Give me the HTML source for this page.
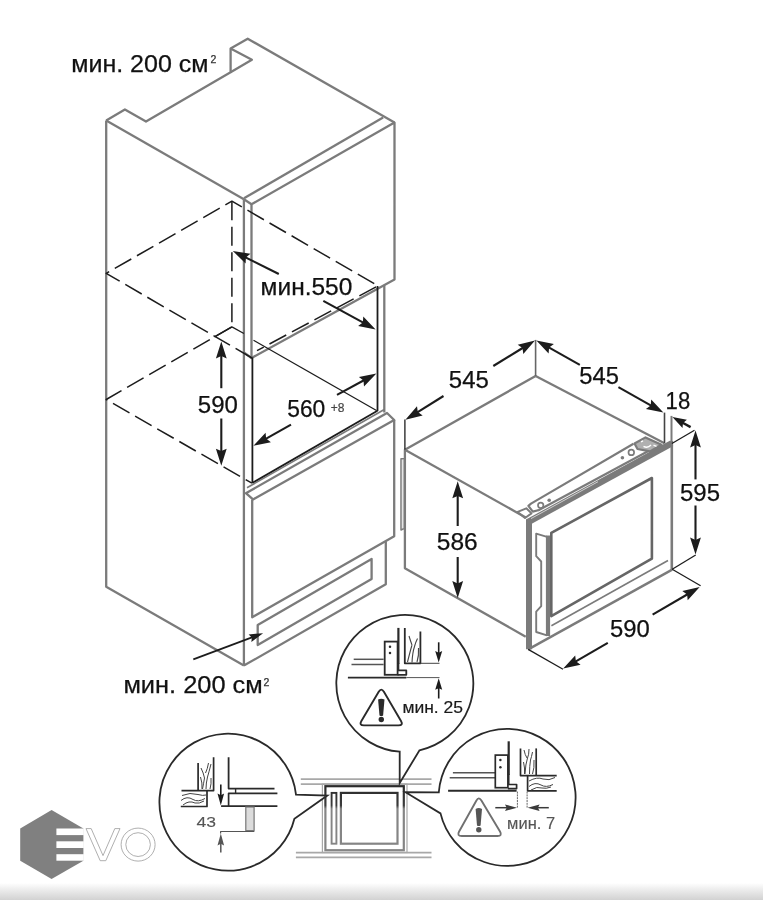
<!DOCTYPE html>
<html><head><meta charset="utf-8"><title>diagram</title>
<style>
html,body{margin:0;padding:0;background:#fff;}
body{width:763px;height:900px;overflow:hidden;position:relative;font-family:"Liberation Sans",sans-serif;}
svg{position:absolute;left:0;top:0;display:block;filter:blur(0.45px);}
svg text{font-family:"Liberation Sans",sans-serif;}
.foot{position:absolute;left:0;top:883px;width:763px;height:17px;background:linear-gradient(to bottom,#ffffff 0%,#ececec 40%,#d2d2d2 100%);}
</style></head><body>
<div class="foot"></div>
<svg width="763" height="900" viewBox="0 0 763 900">
<line x1="300.8" y1="779.2" x2="431.5" y2="779.2" stroke="#a8a8a8" stroke-width="1.8" />
<line x1="300.8" y1="784.1" x2="431.5" y2="784.1" stroke="#a8a8a8" stroke-width="1.8" />
<line x1="295.9" y1="852.6" x2="431.5" y2="852.6" stroke="#a8a8a8" stroke-width="1.8" />
<line x1="295.9" y1="857.4" x2="431.5" y2="857.4" stroke="#a8a8a8" stroke-width="1.8" />
<rect x="322.4" y="784.1" width="84.6" height="68.4" fill="none" stroke="#a8a8a8" stroke-width="1.2"/>
<defs><linearGradient id="fg" gradientUnits="userSpaceOnUse" x1="0" y1="785" x2="0" y2="851"><stop offset="0" stop-color="#2a2a2a"/><stop offset="0.31" stop-color="#3c3c3c"/><stop offset="0.36" stop-color="#858585"/><stop offset="1" stop-color="#858585"/></linearGradient></defs>
<rect x="325.4" y="786.2" width="78.4" height="64" fill="none" stroke="url(#fg)" stroke-width="2.2"/>
<rect x="331.6" y="792.9" width="4.8" height="50.8" fill="none" stroke="url(#fg)" stroke-width="1.9"/>
<rect x="340.9" y="792.9" width="56.6" height="50.8" fill="none" stroke="url(#fg)" stroke-width="2.2"/>
<path d="M399.7,751.7 A68.5,68.5 0 1 1 419.5,750.3 L399.7,783 Z" fill="#fff" stroke="#2a2a2a" stroke-width="1.8" stroke-linejoin="miter"/>
<path d="M294.4,818.7 A68.5,68.5 0 1 1 296.0,794.6 L327.3,795.5 Z" fill="#fff" stroke="#2a2a2a" stroke-width="1.8" stroke-linejoin="miter"/>
<path d="M438.8,792.3 A68.5,68.5 0 1 1 440.5,813.4 L405.5,792.2 Z" fill="#fff" stroke="#2a2a2a" stroke-width="1.8" stroke-linejoin="miter"/>
<line x1="353.7" y1="659.3" x2="383.6" y2="659.3" stroke="#555" stroke-width="1.5" />
<line x1="351.5" y1="664.5" x2="383.6" y2="664.5" stroke="#555" stroke-width="1.5" />
<line x1="347.9" y1="677.6" x2="406.3" y2="677.6" stroke="#2a2a2a" stroke-width="1.9" />
<line x1="406.3" y1="677.6" x2="439.5" y2="677.6" stroke="#555" stroke-width="1.0" />
<rect x="384.7" y="641.6" width="12.9" height="33.2" fill="#fff" stroke="#2a2a2a" stroke-width="1.8"/>
<circle cx="390" cy="646.7" r="1.25" fill="#2a2a2a"/><circle cx="390" cy="653.1" r="1.25" fill="#2a2a2a"/>
<line x1="398.4" y1="627.9" x2="398.4" y2="664" stroke="#2a2a2a" stroke-width="2.2" />
<polyline points="398.4,663.2 398.4,670.4 406.3,670.4 406.3,674.8 397.6,674.8" fill="none" stroke="#2a2a2a" stroke-width="1.8" stroke-linejoin="round" />
<polyline points="404.8,627.9 404.8,663.3 420.4,663.3 420.4,631.5" fill="none" stroke="#2a2a2a" stroke-width="1.8" stroke-linejoin="round" />
<path d="M409,636 q1.5,5 3,9 M417.5,638.5 q-2,4 -3,8 q-2,6 -2.5,16 M412,645 q-1.5,5 -4.5,17 M418.5,648 q0.5,8 -1.5,14" fill="none" stroke="#444" stroke-width="1.1"/>
<line x1="420.4" y1="663.3" x2="439.5" y2="663.3" stroke="#444" stroke-width="1.0" />
<line x1="438.7" y1="642.3" x2="438.7" y2="653.4" stroke="#1c1c1c" stroke-width="1.6" />
<polygon points="438.7,662.6 435.2,651.1 438.7,652.7 442.2,651.1" fill="#1c1c1c"/>
<line x1="438.7" y1="698.5" x2="438.7" y2="687.5" stroke="#1c1c1c" stroke-width="1.6" />
<polygon points="438.7,678.3 442.2,689.8 438.7,688.2 435.2,689.8" fill="#1c1c1c"/>
<path d="M378.7,691.8 Q381.3,687.4 383.9,691.8 L401.0,721.0 Q403.6,725.4 398.5,725.4 L363.9,725.4 Q358.8,725.4 361.4,721.0 Z" fill="#fff" stroke="#2a2a2a" stroke-width="1.9"/>
<path d="M378.1,699.6 q3.2,-1.9 6.4,0 l-1.4,15.8 q-1.8,1.1 -3.6,0 z" fill="#2a2a2a"/>
<circle cx="381.3" cy="719.5" r="2.7" fill="#2a2a2a"/>
<text x="402.4" y="712.5" font-size="17" fill="#1a1a1a" stroke="#1a1a1a" stroke-width="0.2" textLength="60.6" lengthAdjust="spacingAndGlyphs" >мин. 25</text>
<polyline points="198.1,763 198.1,790.6" fill="none" stroke="#2a2a2a" stroke-width="1.7" stroke-linejoin="round" />
<polyline points="213.6,757.2 213.6,790.6 181.5,790.6" fill="none" stroke="#2a2a2a" stroke-width="1.7" stroke-linejoin="round" />
<path d="M201,768 q2.5,5 3.5,10 M208.5,763 q-1,6 -3,10 M211,764 q-2,8 -3.5,13 q-1.5,6 -1.5,12 M200.5,777 q2,6 1.5,12 M204.5,778 q-1,6 -2,11 M211,778 q0.5,6 -1,11" fill="none" stroke="#444" stroke-width="1.0"/>
<polyline points="207,790.6 207,806.5 180.8,806.5" fill="none" stroke="#2a2a2a" stroke-width="1.7" stroke-linejoin="round" />
<path d="M182,795.5 q8,-3.5 16,-1 q5,1.5 8,0.5 M181,800.5 q6,-5 12,-1 q5,3 12,-1 M183,805 q6,-5 12,-2 q4,1 9,-2" fill="none" stroke="#444" stroke-width="1.0"/>
<polyline points="228.6,757.2 228.6,788.6 274.5,788.6" fill="none" stroke="#2a2a2a" stroke-width="1.8" stroke-linejoin="round" />
<line x1="235.6" y1="788.6" x2="235.6" y2="793.3" stroke="#2a2a2a" stroke-width="1.4" />
<polyline points="277.4,793.3 228.6,793.3 228.6,806.2" fill="none" stroke="#2a2a2a" stroke-width="1.7" stroke-linejoin="round" />
<line x1="221.1" y1="806.2" x2="277.4" y2="806.2" stroke="#2a2a2a" stroke-width="1.8" />
<rect x="245.8" y="807" width="8.3" height="23.6" fill="#dcdcdc" stroke="#777" stroke-width="1.2"/>
<polyline points="254.3,831.5 220.6,831.5 220.6,833.6" fill="none" stroke="#555" stroke-width="1.2" stroke-linejoin="round" />
<line x1="220.8" y1="784.6" x2="220.8" y2="796.0" stroke="#1c1c1c" stroke-width="1.6" />
<polygon points="220.8,805.6 217.5,793.6 220.8,795.3 224.1,793.6" fill="#1c1c1c"/>
<line x1="220.8" y1="852.4" x2="220.8" y2="843.0" stroke="#555" stroke-width="1.5" />
<polygon points="220.8,833.4 224.1,845.4 220.8,843.7 217.5,845.4" fill="#555"/>
<text x="196.6" y="826.6" font-size="15.5" fill="#555" stroke="#555" stroke-width="0.1" textLength="19.5" lengthAdjust="spacingAndGlyphs" >43</text>
<line x1="452.9" y1="772.7" x2="495.3" y2="772.7" stroke="#555" stroke-width="1.5" />
<line x1="449.7" y1="777.8" x2="495.3" y2="777.8" stroke="#555" stroke-width="1.5" />
<line x1="448.1" y1="790.8" x2="516.6" y2="790.8" stroke="#2a2a2a" stroke-width="1.9" />
<rect x="495.3" y="755.1" width="12.6" height="32.6" fill="#fff" stroke="#2a2a2a" stroke-width="1.7"/>
<circle cx="500.4" cy="759.9" r="1.25" fill="#2a2a2a"/><circle cx="500.4" cy="767.2" r="1.25" fill="#2a2a2a"/>
<line x1="508.7" y1="741.3" x2="508.7" y2="775" stroke="#2a2a2a" stroke-width="2.2" />
<polyline points="508.7,774.3 508.7,784.5 516.6,784.5 516.6,788.6 507.9,788.6" fill="none" stroke="#2a2a2a" stroke-width="1.7" stroke-linejoin="round" />
<polyline points="520.5,748.4 520.5,775.6 556.7,775.6" fill="none" stroke="#2a2a2a" stroke-width="1.7" stroke-linejoin="round" />
<line x1="536.2" y1="748.4" x2="536.2" y2="775.6" stroke="#2a2a2a" stroke-width="1.7" />
<path d="M524,750 q1,5 3,8 M529,749 q0,6 -1.5,9 q-2,6 -2.5,16 M532.5,752 q-1,5 -2,8 q-1,6 -1,14 M534,760 q0.5,8 -1.5,14 M523.5,762 q1.5,6 1,12" fill="none" stroke="#444" stroke-width="1.0"/>
<polyline points="527.6,775.6 527.6,790.8 556.7,790.8" fill="none" stroke="#2a2a2a" stroke-width="1.7" stroke-linejoin="round" />
<path d="M529,781 q8,-4.5 14,-2 q6,2 12,-1.5 M529,786.5 q6,-5 12,-1.5 q5,3 12,-0.5 M531,790 q6,-4 11,-2 q4,1 9,-1" fill="none" stroke="#444" stroke-width="1.0"/>
<line x1="517.4" y1="791.6" x2="517.4" y2="808.3" stroke="#666" stroke-width="1.0" stroke-dasharray="2 0.8"/>
<line x1="527.1" y1="791.6" x2="527.1" y2="808.3" stroke="#666" stroke-width="1.0" stroke-dasharray="2 0.8"/>
<line x1="495.3" y1="807.7" x2="507.4" y2="807.7" stroke="#3a3a3a" stroke-width="1.5" />
<polygon points="517.0,807.7 505.0,810.9 506.7,807.7 505.0,804.5" fill="#3a3a3a"/>
<line x1="548.8" y1="807.7" x2="537.2" y2="807.7" stroke="#3a3a3a" stroke-width="1.5" />
<polygon points="527.6,807.7 539.6,804.5 537.9,807.7 539.6,810.9" fill="#3a3a3a"/>
<path d="M476.3,800.7 Q478.8,796.2 481.4,800.6 L500.0,831.6 Q502.6,836.0 497.5,836.0 L461.7,836.0 Q456.6,836.0 459.1,831.5 Z" fill="#fff" stroke="#707070" stroke-width="1.9"/>
<path d="M475.6,808.9 q3.2,-1.9 6.4,0 l-1.4,16.5 q-1.8,1.1 -3.6,0 z" fill="#555"/>
<circle cx="478.8" cy="829.8" r="2.7" fill="#555"/>
<text x="507.1" y="829" font-size="17" fill="#555" stroke="#555" stroke-width="0.15" textLength="48" lengthAdjust="spacingAndGlyphs" >мин. 7</text>
<polygon points="51.6,810.1 83.4,828.5 83.4,860.7 51.6,879.1 20.2,860.7 20.2,828.5" fill="#808080"/>
<rect x="56.4" y="828.5" width="27.4" height="6.6" fill="#fff"/>
<rect x="56.4" y="841.3" width="27.4" height="6.7" fill="#fff"/>
<rect x="56.4" y="854.2" width="27.4" height="6.5" fill="#fff"/>
<polygon points="86,828.6 91.2,828.6 103,855.6 114.8,828.6 120,828.6 105.8,860.7 100.2,860.7" fill="#fff" stroke="#9a9a9a" stroke-width="0.8" stroke-linejoin="miter"/>
<ellipse cx="138.1" cy="844.6" rx="17" ry="16.5" fill="#fff" stroke="#9a9a9a" stroke-width="0.8"/>
<ellipse cx="138.1" cy="844.6" rx="12.3" ry="11.9" fill="#fff" stroke="#9a9a9a" stroke-width="0.8"/>
<polyline points="106.2,120.5 124.9,109.5 146,121.6 230.6,72.2 230.6,48.6 247.7,38.7 394.5,122.6" fill="none" stroke="#7b7b7b" stroke-width="2.3" stroke-linejoin="round" />
<polyline points="230.6,48.6 251.9,59.8 230.6,72.2" fill="none" stroke="#7b7b7b" stroke-width="2.3" stroke-linejoin="round" />
<polyline points="106.2,120.5 106.2,586.7 243.9,665.6" fill="none" stroke="#7b7b7b" stroke-width="2.3" stroke-linejoin="round" />
<line x1="106.2" y1="120.5" x2="243.9" y2="199.3" stroke="#7b7b7b" stroke-width="2.3" />
<line x1="243.9" y1="199.3" x2="243.9" y2="665.6" stroke="#7b7b7b" stroke-width="2.3" />
<line x1="244.0" y1="198.3" x2="383.1" y2="117.6" stroke="#7b7b7b" stroke-width="2.3" />
<polygon points="251.5,204.3 394.5,122.6 394.5,279.6 251.5,358" fill="none" stroke="#7b7b7b" stroke-width="2.3" stroke-linejoin="round" />
<line x1="243.9" y1="199.3" x2="251.5" y2="204.3" stroke="#7b7b7b" stroke-width="2.3" />
<line x1="243.9" y1="352.5" x2="251.5" y2="358" stroke="#7b7b7b" stroke-width="2.3" />
<line x1="384.3" y1="285.5" x2="384.3" y2="412.5" stroke="#7b7b7b" stroke-width="2.3" />
<line x1="252.4" y1="357.4" x2="252.4" y2="483.2" stroke="#1c1c1c" stroke-width="1.8" />
<line x1="377.5" y1="286" x2="377.5" y2="411" stroke="#1c1c1c" stroke-width="1.8" />
<line x1="252.5" y1="482.9" x2="377.5" y2="410.8" stroke="#1c1c1c" stroke-width="1.8" />
<line x1="253.5" y1="340.2" x2="376.5" y2="410.5" stroke="#1c1c1c" stroke-width="1.3" />
<line x1="247" y1="487.8" x2="384.3" y2="409.5" stroke="#7b7b7b" stroke-width="1.6" />
<polygon points="245.9,493.2 387,413 394.2,420 253.0,499.4" fill="none" stroke="#7b7b7b" stroke-width="2.3" stroke-linejoin="round" />
<polyline points="394.2,420 394.2,536.3 252.2,617.2 252.2,499.4" fill="none" stroke="#7b7b7b" stroke-width="2.3" stroke-linejoin="round" />
<polyline points="243.9,665.6 385.8,584.2 385.8,541.5" fill="none" stroke="#7b7b7b" stroke-width="2.3" stroke-linejoin="round" />
<polygon points="257.7,625 371.6,558.9 371.6,579 257.7,645" fill="none" stroke="#7b7b7b" stroke-width="2.3" stroke-linejoin="round" />
<polyline points="252,358 106.2,273.4 231.9,201.2 378,285.8 257,350.7" fill="none" stroke="#1c1c1c" stroke-width="1.5" stroke-linejoin="round" stroke-dasharray="19 6.5"/>
<line x1="231.9" y1="201.2" x2="231.9" y2="326.9" stroke="#1c1c1c" stroke-width="1.5" stroke-dasharray="19 6.5"/>
<polyline points="231.9,326.9 106.2,399.5 251.9,483.2" fill="none" stroke="#1c1c1c" stroke-width="1.5" stroke-linejoin="round" stroke-dasharray="19 6.5"/>
<line x1="231.9" y1="326.9" x2="214.5" y2="336.9" stroke="#1c1c1c" stroke-width="1.3" />
<line x1="231.9" y1="326.9" x2="243.9" y2="333.5" stroke="#1c1c1c" stroke-width="1.3" />
<line x1="278.8" y1="274" x2="245.0" y2="257.1" stroke="#1c1c1c" stroke-width="2.1" />
<polygon points="232.8,251.0 250.4,253.8 245.9,257.5 245.6,263.4" fill="#1c1c1c"/>
<line x1="323.3" y1="300.8" x2="363.7" y2="322.9" stroke="#1c1c1c" stroke-width="2.1" />
<polygon points="375.6,329.4 358.1,326.0 362.8,322.4 363.3,316.5" fill="#1c1c1c"/>
<line x1="221.3" y1="388.2" x2="221.3" y2="355.1" stroke="#1c1c1c" stroke-width="2.1" />
<polygon points="221.3,341.5 226.7,358.5 221.3,356.1 215.9,358.5" fill="#1c1c1c"/>
<line x1="221.3" y1="418.5" x2="221.3" y2="452.1" stroke="#1c1c1c" stroke-width="2.1" />
<polygon points="221.3,465.7 215.9,448.7 221.3,451.1 226.7,448.7" fill="#1c1c1c"/>
<line x1="291" y1="424.7" x2="265.3" y2="439.1" stroke="#1c1c1c" stroke-width="2.1" />
<polygon points="253.4,445.8 265.6,432.8 266.1,438.6 270.9,442.2" fill="#1c1c1c"/>
<line x1="337" y1="394.8" x2="364.4" y2="380.0" stroke="#1c1c1c" stroke-width="2.1" />
<polygon points="376.4,373.6 364.0,386.4 363.5,380.5 358.9,376.9" fill="#1c1c1c"/>
<line x1="193.3" y1="659.4" x2="252.6" y2="637.1" stroke="#1c1c1c" stroke-width="1.7" />
<polygon points="263.1,633.2 251.4,641.9 251.8,637.4 248.6,634.4" fill="#1c1c1c"/>
<polyline points="404,458.7 401.0,458.7 401.0,530 404,528.5" fill="none" stroke="#7b7b7b" stroke-width="1.5" stroke-linejoin="round" />
<line x1="403.2" y1="459" x2="403.2" y2="528.5" stroke="#aaa" stroke-width="1.0" />
<polyline points="535.6,376 404.9,449.7 404.9,568.2 525.7,636.7" fill="none" stroke="#7b7b7b" stroke-width="2.3" stroke-linejoin="round" />
<line x1="404.9" y1="449.7" x2="525.7" y2="517.4" stroke="#7b7b7b" stroke-width="2.3" />
<line x1="535.6" y1="376" x2="664.5" y2="443.3" stroke="#7b7b7b" stroke-width="2.3" />
<line x1="529.0" y1="519.5" x2="529.0" y2="649.2" stroke="#7b7b7b" stroke-width="6.0" />
<line x1="527.5" y1="522.4" x2="671.8" y2="443.3" stroke="#7b7b7b" stroke-width="6.4" />
<line x1="531" y1="518.6" x2="598" y2="481.7" stroke="#d8d8d8" stroke-width="0.9" />
<line x1="671.8" y1="441" x2="671.8" y2="570" stroke="#7b7b7b" stroke-width="2.6" />
<line x1="672.2" y1="569.6" x2="528.2" y2="649.4" stroke="#7b7b7b" stroke-width="2.4" />
<polyline points="551.4,625.8 668,560.5" fill="none" stroke="#7b7b7b" stroke-width="1.6" stroke-linejoin="round" />
<polygon points="551.3,532.8 651.9,478 651.9,558.6 551.3,616.2" fill="none" stroke="#666" stroke-width="2.6" stroke-linejoin="round" />
<polyline points="547,536.8 536.2,533.6 536.2,556.2 541.2,561.5 541.2,606.2 536.2,611.6 536.2,632 547,635.3" fill="none" stroke="#7b7b7b" stroke-width="1.9" stroke-linejoin="round" />
<line x1="548.0" y1="535.5" x2="548.0" y2="636" stroke="#7b7b7b" stroke-width="4.2" />
<polyline points="538.2,510.3 532.8,511.6 528.4,505.8 531,503.6 633.5,443.8" fill="none" stroke="#7b7b7b" stroke-width="2.2" stroke-linejoin="round" />
<line x1="538" y1="510.5" x2="654" y2="448.0" stroke="#7b7b7b" stroke-width="2.2" />
<polygon points="517.7,511.9 526.3,508.3 531.5,513.4 525,518" fill="none" stroke="#7b7b7b" stroke-width="2.0" stroke-linejoin="round" />
<circle cx="540.7" cy="505.3" r="2.7" fill="none" stroke="#7b7b7b" stroke-width="1.7"/>
<circle cx="549.2" cy="500.2" r="1.8" fill="#7b7b7b"/>
<circle cx="631.3" cy="452.4" r="2.8" fill="none" stroke="#7b7b7b" stroke-width="1.7"/>
<circle cx="622.4" cy="457.7" r="1.8" fill="#7b7b7b"/>
<polygon points="634.5,443.5 645.5,437.4 661.5,444.8 650,451.4 637.5,449" fill="#b0b0b0" stroke="#7b7b7b" stroke-width="2.2" stroke-linejoin="round" />
<path d="M641,441.8 l2,-1 M643.5,446.3 q4,2.3 7.5,-1.3 M653.5,445.2 l3,1.2" stroke="#fff" stroke-width="1.4" fill="none"/>
<line x1="404.9" y1="419.6" x2="404.9" y2="449.5" stroke="#1c1c1c" stroke-width="1.3" />
<line x1="535.6" y1="339.9" x2="535.6" y2="376" stroke="#666" stroke-width="1.6" />
<line x1="664.5" y1="412.6" x2="664.5" y2="443.3" stroke="#444" stroke-width="1.6" />
<line x1="671.5" y1="415.9" x2="671.5" y2="444" stroke="#7b7b7b" stroke-width="2" />
<line x1="671.9" y1="443.5" x2="694.5" y2="430.2" stroke="#1c1c1c" stroke-width="1.3" />
<line x1="672.2" y1="569.3" x2="700.6" y2="585.8" stroke="#1c1c1c" stroke-width="1.3" />
<line x1="672.2" y1="569.3" x2="695.7" y2="555" stroke="#1c1c1c" stroke-width="1.3" />
<line x1="528.2" y1="649.4" x2="563" y2="669.3" stroke="#1c1c1c" stroke-width="1.3" />
<line x1="443.5" y1="396" x2="416.9" y2="412.6" stroke="#1c1c1c" stroke-width="2.1" />
<polygon points="405.4,419.8 417.0,406.2 417.8,412.1 422.7,415.4" fill="#1c1c1c"/>
<line x1="493.3" y1="366" x2="523.4" y2="347.5" stroke="#1c1c1c" stroke-width="2.1" />
<polygon points="535.0,340.4 523.3,353.9 522.5,348.0 517.7,344.7" fill="#1c1c1c"/>
<line x1="579.8" y1="364.8" x2="548.3" y2="347.1" stroke="#1c1c1c" stroke-width="2.1" />
<polygon points="536.4,340.4 553.9,344.0 549.1,347.6 548.6,353.4" fill="#1c1c1c"/>
<line x1="618.4" y1="387.2" x2="651.6" y2="405.9" stroke="#1c1c1c" stroke-width="2.1" />
<polygon points="663.4,412.6 645.9,408.9 650.7,405.4 651.2,399.5" fill="#1c1c1c"/>
<line x1="690.6" y1="427.1" x2="682.2" y2="422.5" stroke="#1c1c1c" stroke-width="2.4" />
<polygon points="672.4,417.1 686.9,419.8 683.0,422.9 682.5,427.9" fill="#1c1c1c"/>
<line x1="695.5" y1="479.4" x2="695.5" y2="444.1" stroke="#1c1c1c" stroke-width="2.1" />
<polygon points="695.5,430.5 700.9,447.5 695.5,445.1 690.1,447.5" fill="#1c1c1c"/>
<line x1="695.5" y1="505.5" x2="695.5" y2="540.9" stroke="#1c1c1c" stroke-width="2.1" />
<polygon points="695.5,554.5 690.1,537.5 695.5,539.9 700.9,537.5" fill="#1c1c1c"/>
<line x1="607.8" y1="642.8" x2="575.0" y2="661.8" stroke="#1c1c1c" stroke-width="2.1" />
<polygon points="563.2,668.6 575.2,655.4 575.9,661.3 580.6,664.8" fill="#1c1c1c"/>
<line x1="652.6" y1="614.6" x2="688.0" y2="594.0" stroke="#1c1c1c" stroke-width="2.1" />
<polygon points="699.7,587.1 687.7,600.3 687.1,594.5 682.3,591.0" fill="#1c1c1c"/>
<line x1="457.7" y1="526" x2="457.7" y2="494.9" stroke="#1c1c1c" stroke-width="2.1" />
<polygon points="457.7,481.3 463.1,498.3 457.7,495.9 452.3,498.3" fill="#1c1c1c"/>
<line x1="457.7" y1="557" x2="457.7" y2="584.5" stroke="#1c1c1c" stroke-width="2.1" />
<polygon points="457.7,598.1 452.3,581.1 457.7,583.5 463.1,581.1" fill="#1c1c1c"/>
<text x="71.2" y="71.8" font-size="23.5" fill="#111" stroke="#111" stroke-width="0.25" textLength="137.4" lengthAdjust="spacingAndGlyphs" >мин. 200 см</text>
<text x="210.5" y="63.4" font-size="10.5" fill="#333" stroke="#333" stroke-width="0.25" >2</text>
<text x="260.6" y="295.4" font-size="23.5" fill="#111" stroke="#111" stroke-width="0.25" textLength="91.8" lengthAdjust="spacingAndGlyphs" >мин.550</text>
<text x="197.8" y="412.6" font-size="23.5" fill="#111" stroke="#111" stroke-width="0.25" textLength="40.1" lengthAdjust="spacingAndGlyphs" >590</text>
<text x="287.2" y="417.2" font-size="23.5" fill="#111" stroke="#111" stroke-width="0.25" textLength="38.1" lengthAdjust="spacingAndGlyphs" >560</text>
<text x="330.8" y="411.5" font-size="12" fill="#444" stroke="#444" stroke-width="0.2" >+8</text>
<text x="123.4" y="693.4" font-size="23.5" fill="#111" stroke="#111" stroke-width="0.25" textLength="139.4" lengthAdjust="spacingAndGlyphs" >мин. 200 см</text>
<text x="263.6" y="685.8" font-size="10.5" fill="#333" stroke="#333" stroke-width="0.25" >2</text>
<text x="448.8" y="388.0" font-size="23.5" fill="#111" stroke="#111" stroke-width="0.25" textLength="40.0" lengthAdjust="spacingAndGlyphs" >545</text>
<text x="579.3" y="383.9" font-size="23.5" fill="#111" stroke="#111" stroke-width="0.25" textLength="39.6" lengthAdjust="spacingAndGlyphs" >545</text>
<text x="665.6" y="408.9" font-size="23.5" fill="#111" stroke="#111" stroke-width="0.25" textLength="24.6" lengthAdjust="spacingAndGlyphs" >18</text>
<text x="680.0" y="501.0" font-size="23.5" fill="#111" stroke="#111" stroke-width="0.25" textLength="40.0" lengthAdjust="spacingAndGlyphs" >595</text>
<text x="436.8" y="550.4" font-size="23.5" fill="#111" stroke="#111" stroke-width="0.25" textLength="40.9" lengthAdjust="spacingAndGlyphs" >586</text>
<text x="610.0" y="637.2" font-size="23.5" fill="#111" stroke="#111" stroke-width="0.25" textLength="39.8" lengthAdjust="spacingAndGlyphs" >590</text>
</svg>
</body></html>
